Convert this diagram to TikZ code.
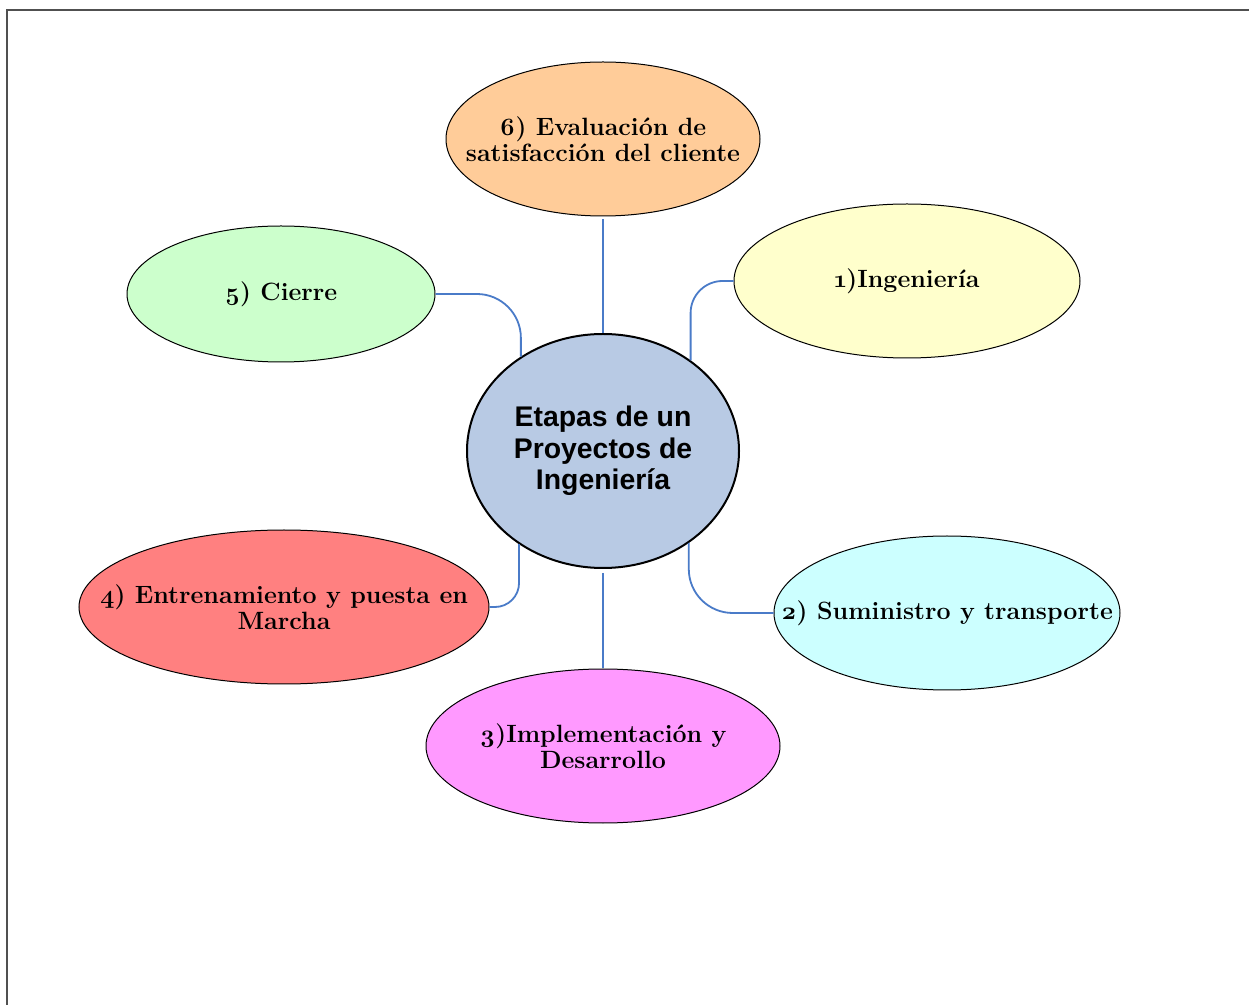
\documentclass[tikz,border=0pt]{standalone}
\usepackage{fontspec}
\usetikzlibrary{shapes.geometric}
\newfontfamily\hubfont{Liberation Sans}
\newfontfamily\stagefont[Numbers=OldStyle]{Latin Modern Roman}

\definecolor{hubblue}{HTML}{B8CAE4}
\definecolor{linkblue}{HTML}{4A7BC8}
\definecolor{framegray}{HTML}{505050}

\begin{document}
\begin{tikzpicture}[x = 0.5pt,
                    y = -0.5pt,
                    stage/.style = {ellipse, draw, line width = 0.5pt, inner xsep = -40pt, inner ysep = 0pt,
                                    align = center, font = \stagefont\fontsize{12.5}{13}\selectfont\bfseries},
                    hub/.style = {ellipse, draw, line width = 1pt, fill = hubblue, inner sep = 0pt,
                                  align = center, font = \hubfont\fontsize{14.2}{15.75}\selectfont\bfseries,
                                  minimum width = 136pt, minimum height = 117pt},
                    link/.style = {draw = linkblue, line width = 0.9pt}]

    \useasboundingbox (0,0) rectangle (1249,1005);
    \draw[framegray, line width = 1.2pt] (7,1005) -- (7,10) -- (1249,10);

    \node[hub] (hub) at (603,451) {Etapas de un\\Proyectos de\\Ingeniería};

    \node[stage, fill = {rgb,255:red,255;green,204;blue,153},
          minimum width = 157pt, minimum height = 77pt] (eval) at (603,139)
          {6) Evaluación de\\satisfacción del cliente};
    \node[stage, fill = {rgb,255:red,255;green,255;blue,204},
          minimum width = 173pt, minimum height = 77pt] (ing) at (907,281)
          {1)Ingeniería};
    \node[stage, fill = {rgb,255:red,204;green,255;blue,204},
          minimum width = 154pt, minimum height = 68pt] (cierre) at (281,294)
          {5) Cierre};
    \node[stage, fill = {rgb,255:red,255;green,128;blue,128},
          minimum width = 205pt, minimum height = 77pt] (marcha) at (284,607)
          {4) Entrenamiento y puesta en\\Marcha};
    \node[stage, fill = {rgb,255:red,204;green,255;blue,255},
          minimum width = 173pt, minimum height = 77pt] (sumin) at (947,613)
          {2) Suministro y transporte};
    \node[stage, fill = {rgb,255:red,255;green,153;blue,255},
          minimum width = 177pt, minimum height = 77pt] (impl) at (603,746)
          {3)Implementación y\\Desarrollo};

    % straight links
    \draw[link, shorten <= 1.5pt] (eval) -- (hub);
    \draw[link, shorten <= 2pt] (hub) -- (impl);

    % bent links
    \draw[link, rounded corners = 22pt] (cierre.east) -| (hub.131);
    \draw[link, rounded corners = 16pt] (ing.west) -| (hub.46);
    \draw[link, rounded corners = 12pt] (marcha.east) -| (hub.228);
    \draw[link, rounded corners = 22pt] (sumin.west) -| (hub.-47);
\end{tikzpicture}
\end{document}
